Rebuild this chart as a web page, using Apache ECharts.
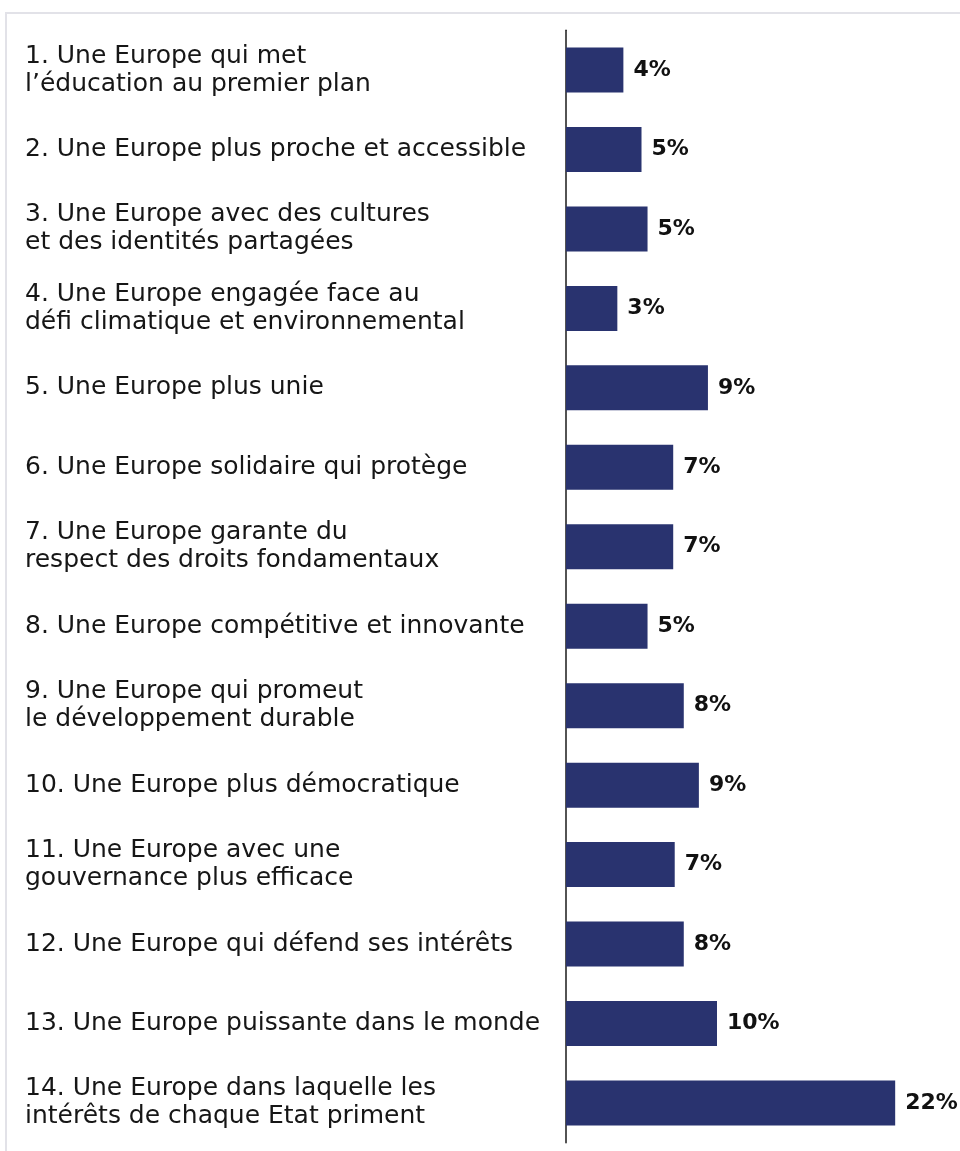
<!DOCTYPE html>
<html>
<head>
<meta charset="utf-8">
<script src="https://cdn.jsdelivr.net/npm/echarts@6/dist/echarts.min.js"></script>
<style>
html,body{margin:0;padding:0;background:#fff;}
#chart{width:960px;height:1151px;}
</style>
</head>
<body>
<div id="chart"></div>
<script>
const categories = [
  "1. Une Europe qui met\nl\u2019éducation au premier plan",
  "2. Une Europe plus proche et accessible",
  "3. Une Europe avec des cultures\net des identités partagées",
  "4. Une Europe engagée face au\ndéfi climatique et environnemental",
  "5. Une Europe plus unie",
  "6. Une Europe solidaire qui protège",
  "7. Une Europe garante du\nrespect des droits fondamentaux",
  "8. Une Europe compétitive et innovante",
  "9. Une Europe qui promeut\nle développement durable",
  "10. Une Europe plus démocratique",
  "11. Une Europe avec une\ngouvernance plus efficace",
  "12. Une Europe qui défend ses intérêts",
  "13. Une Europe puissante dans le monde",
  "14. Une Europe dans laquelle les\nintérêts de chaque Etat priment"
];
const values = [3.8, 5.0, 5.4, 3.4, 9.4, 7.1, 7.1, 5.4, 7.8, 8.8, 7.2, 7.8, 10.0, 21.8];
const valueLabels = ["4%","5%","5%","3%","9%","7%","7%","5%","8%","9%","7%","8%","10%","22%"];

const chart = echarts.init(document.getElementById('chart'));
chart.setOption({
  animation: false,
  backgroundColor: '#ffffff',
  graphic: [{
    type: 'rect',
    shape: {x: 6, y: 13, width: 1000, height: 1200},
    style: {fill: 'none', stroke: '#e2e2e8', lineWidth: 2},
    silent: true, z: -1
  }],
  grid: {left: 566, right: 16.5, top: 30.3, bottom: 8.3, containLabel: false},
  xAxis: {
    type: 'value', min: 0, max: 25,
    show: false
  },
  yAxis: {
    type: 'category',
    data: categories,
    inverse: true,
    axisLine: {show: true, lineStyle: {color: '#1a1a1a', width: 1.5}},
    axisTick: {show: false},
    axisLabel: {
      align: 'left',
      margin: 541,
      color: '#161616',
      fontFamily: 'DejaVu Sans',
      fontSize: 25,
      lineHeight: 28
    }
  },
  series: [{
    type: 'bar',
    data: values,
    barWidth: 45,
    itemStyle: {color: '#29336f'},
    label: {
      show: true,
      position: 'right',
      distance: 10,
      color: '#111',
      fontFamily: 'DejaVu Sans',
      fontWeight: 'bold',
      fontSize: 22,
      formatter: p => valueLabels[p.dataIndex]
    }
  }]
});
</script>
</body>
</html>
